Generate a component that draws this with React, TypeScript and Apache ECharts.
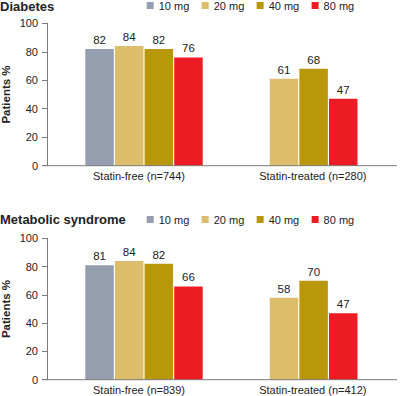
import React, { useEffect, useRef } from "react";
import * as echarts from "echarts";

const doses = ["10 mg", "20 mg", "40 mg", "80 mg"];
const doseColors = ["#959eae", "#dbbd6b", "#b8970b", "#ed1c24"];

const diabetesCategories = ["Statin-free (n=744)", "Statin-treated (n=280)"];
const diabetes10 = [82, null];
const diabetes20 = [84, 61];
const diabetes40 = [82, 68];
const diabetes80 = [76, 47];

const metabolicCategories = ["Statin-free (n=839)", "Statin-treated (n=412)"];
const metabolic10 = [81, null];
const metabolic20 = [84, 58];
const metabolic40 = [82, 70];
const metabolic80 = [66, 47];

const yTicks = { min: 0, max: 100, interval: 20 };

const FONT = "Liberation Sans, Arial, Helvetica, sans-serif";
const TEXT = "#222";
const AXIS = "#7a7a7a";

export default function App() {
  const ref = useRef<HTMLDivElement>(null);

  useEffect(() => {
    if (!ref.current) return;
    const chart = echarts.init(ref.current, undefined, { renderer: "svg" });

    const gridTop = [23.3, 238.3];
    const gridHeight = [142.4, 141.4];
    const gridLeft = 66.6;
    const gridRight = 23.8;

    const seriesData = [
      [diabetes10, diabetes20, diabetes40, diabetes80],
      [metabolic10, metabolic20, metabolic40, metabolic80],
    ];
    const cats = [diabetesCategories, metabolicCategories];

    const series: any[] = [];
    seriesData.forEach((group, gi) => {
      group.forEach((d, di) => {
        series.push({
          type: "bar",
          name: doses[di],
          xAxisIndex: gi,
          yAxisIndex: gi,
          data: d,
          barWidth: 28.5,
          barGap: "4%",
          itemStyle: { color: doseColors[di] },
          label: {
            show: true,
            position: "top",
            distance: 3,
            color: TEXT,
            fontSize: 11.5,
            fontFamily: FONT,
          },
        });
      });
    });

    const xAxes = cats.map((c, gi) => ({
      type: "category",
      gridIndex: gi,
      data: [
        { value: c[0], textStyle: { padding: [0, 10, 0, 0] } },
        { value: c[1], textStyle: { padding: [0, 0, 0, 28] } },
      ],
      axisLine: { show: false },
      axisTick: { show: false },
      axisLabel: {
        color: TEXT,
        fontSize: 11,
        fontFamily: FONT,
        margin: 5,
      },
    }));

    const yAxes = [0, 1].map((gi) => ({
      type: "value",
      gridIndex: gi,
      min: yTicks.min,
      max: yTicks.max,
      interval: yTicks.interval,
      offset: gridLeft - 47,
      name: "Patients %",
      nameLocation: "middle",
      nameGap: 35,
      nameMoveOverlap: false,
      nameTextStyle: {
        color: TEXT,
        fontSize: 11.5,
        lineHeight: 12,
        fontWeight: "bold",
        fontFamily: FONT,
      },
      axisLine: { show: true, lineStyle: { color: AXIS, width: 1 } },
      axisTick: { show: true, length: 5, lineStyle: { color: AXIS } },
      splitLine: { show: false },
      axisLabel: { color: TEXT, fontSize: 11, fontFamily: FONT, margin: 9 },
    }));

    const baselines = gridTop.map((t, gi) => ({
      type: "line",
      shape: { x1: 42, y1: t + gridHeight[gi], x2: 397, y2: t + gridHeight[gi] },
      style: { stroke: AXIS, lineWidth: 1 },
      z: 10,
    }));

    chart.setOption({
      animation: false,
      textStyle: { fontFamily: FONT },
      title: [
        {
          text: "Diabetes",
          left: 0,
          top: 0,
          padding: 0,
          textStyle: { fontSize: 13, fontWeight: "bold", color: TEXT, fontFamily: FONT },
        },
        {
          text: "Metabolic syndrome",
          left: 0,
          top: 213,
          padding: 0,
          textStyle: { fontSize: 13, fontWeight: "bold", color: TEXT, fontFamily: FONT },
        },
      ],
      legend: [0, 214].map((top) => ({
        data: doses,
        left: 146.7,
        top,
        padding: 0,
        itemWidth: 7,
        itemHeight: 7,
        itemGap: 12.4,
        icon: "rect",
        selectedMode: false,
        textStyle: { color: TEXT, fontSize: 11, fontFamily: FONT },
      })),
      grid: gridTop.map((t, gi) => ({
        left: gridLeft,
        right: gridRight,
        top: t,
        height: gridHeight[gi],
        containLabel: false,
        outerBoundsMode: "none",
      })),
      xAxis: xAxes,
      yAxis: yAxes,
      series,
      graphic: baselines,
    });

    return () => chart.dispose();
  }, []);

  return (
    <div
      ref={ref}
      style={{ position: "absolute", left: 0, top: 0, width: 400, height: 396, background: "#fff" }}
    />
  );
}
